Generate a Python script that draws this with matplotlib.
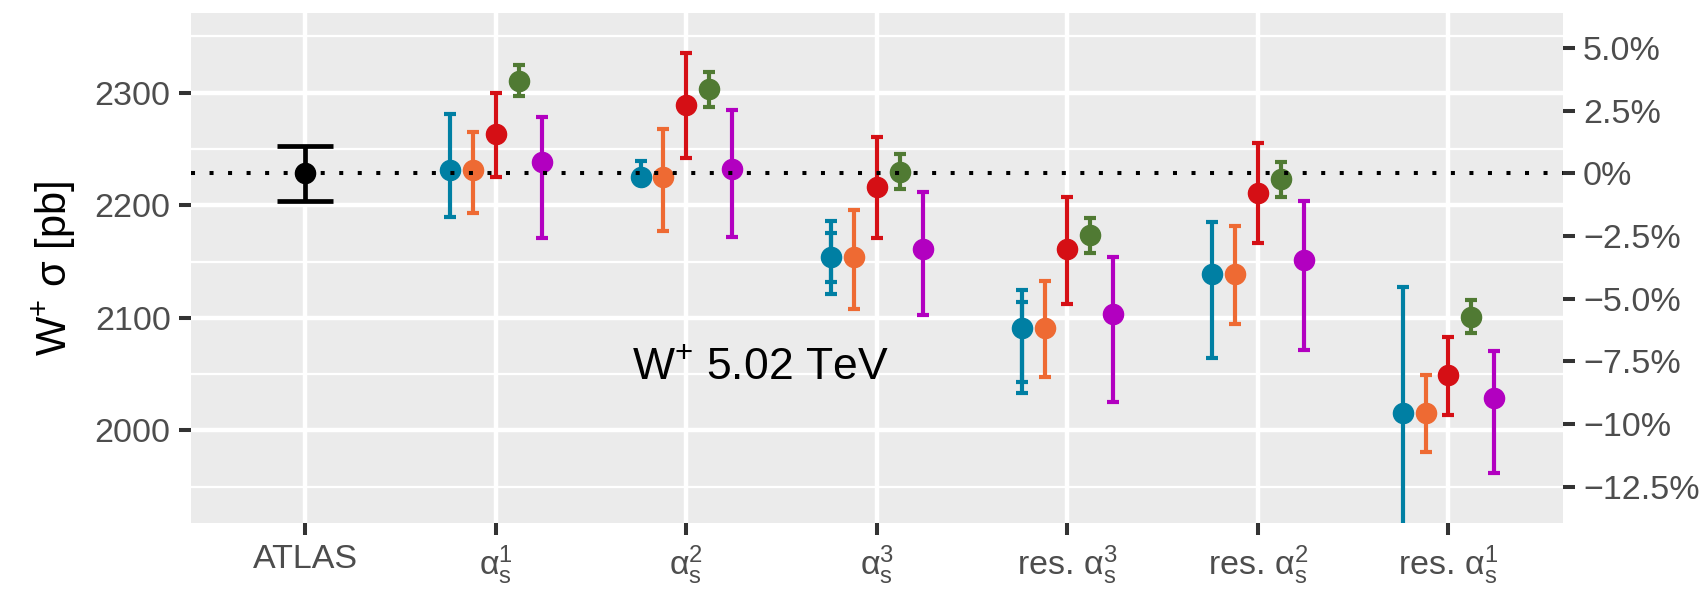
import numpy as np
import matplotlib
matplotlib.use("Agg")
import matplotlib.pyplot as plt

plt.rcParams['font.family'] = ['Liberation Sans', 'DejaVu Sans']
plt.rcParams['mathtext.fontset'] = 'custom'
plt.rcParams['mathtext.rm'] = 'Liberation Sans'
plt.rcParams['mathtext.it'] = 'Liberation Sans:italic'

# categories on the x axis
categories = ["ATLAS", r"$\mathregular{\alpha_s^1}$", r"$\mathregular{\alpha_s^2}$",
              r"$\mathregular{\alpha_s^3}$", r"res. $\mathregular{\alpha_s^3}$",
              r"res. $\mathregular{\alpha_s^2}$", r"res. $\mathregular{\alpha_s^1}$"]

# measurement
atlas_c = 2228.4
atlas_lo = 2203.8
atlas_hi = 2252.9

# predictions (one value per non-ATLAS category)
blue_c = [2231.3, 2225.4, 2154.3, 2090.9, 2138.9, 2015.1]
blue_hi = [2281.1, 2239.3, 2186.0, 2124.7, 2185.1, 2127.0]
blue_lo = [2189.3, 2219.0, 2120.9, 2032.9, 2064.2, 1903.0]
blue_hi_in = [np.nan, np.nan, 2175.0, 2114.3, np.nan, np.nan]
blue_lo_in = [np.nan, np.nan, 2131.5, 2043.2, np.nan, np.nan]

orange_c = [2231.3, 2225.4, 2154.3, 2090.9, 2138.9, 2015.1]
orange_hi = [2264.8, 2268.0, 2195.8, 2132.9, 2181.8, 2049.1]
orange_lo = [2193.4, 2177.4, 2108.0, 2047.6, 2094.2, 1980.9]

red_c = [2263.0, 2289.1, 2216.5, 2161.4, 2210.9, 2049.4]
red_hi = [2299.5, 2335.5, 2260.9, 2207.0, 2255.3, 2082.9]
red_lo = [2224.8, 2242.2, 2171.1, 2112.2, 2166.4, 2013.6]

green_c = [2310.7, 2303.0, 2229.8, 2173.5, 2223.3, 2100.9]
green_hi = [2324.9, 2318.4, 2245.3, 2188.9, 2238.7, 2115.8]
green_lo = [2297.1, 2287.6, 2214.4, 2157.8, 2207.3, 2086.5]

magenta_c = [2238.4, 2232.5, 2160.8, 2103.1, 2151.0, 2028.4]
magenta_hi = [2278.4, 2284.4, 2211.5, 2154.3, 2203.5, 2070.7]
magenta_lo = [2170.9, 2172.0, 2102.7, 2025.0, 2071.3, 1961.8]

pct_ticks = [5.0, 2.5, 0.0, -2.5, -5.0, -7.5, -10.0, -12.5]
pct_labels = ["5.0%", "2.5%", "0%", "\u22122.5%", "\u22125.0%", "\u22127.5%", "\u221210%", "\u221212.5%"]

series = [
    ("#007FA3", blue_c, blue_lo, blue_hi),
    ("#EE6A33", orange_c, orange_lo, orange_hi),
    ("#D50F15", red_c, red_lo, red_hi),
    ("#507A33", green_c, green_lo, green_hi),
    ("#B200C0", magenta_c, magenta_lo, magenta_hi),
]
dodge = 0.12

fig = plt.figure(figsize=(17.06, 6.03), dpi=100)
ax = fig.add_axes([0.11196, 0.13217, 0.80404, 0.84677])
ax.set_facecolor("#EBEBEB")
for s in ax.spines.values():
    s.set_visible(False)

ax.set_xlim(-0.6, 6.6)
ax.set_ylim(1917.4, 2371.1)
ax.set_yticks([2000, 2100, 2200, 2300])
ax.set_yticks([1950, 2050, 2150, 2250, 2350], minor=True)
ax.set_xticks(range(len(categories)))
ax.set_xticklabels(categories)
ax.grid(which="major", color="white", lw=3.2, zorder=0)
ax.grid(which="minor", axis="y", color="white", lw=1.6, zorder=0)
ax.set_axisbelow(True)
ax.tick_params(axis="both", which="major", length=8.6, width=2.9, color="#333333",
               labelsize=24.5, labelcolor="#4D4D4D")
ax.tick_params(axis="y", pad=6)
ax.tick_params(axis="x", pad=6)
ax.tick_params(which="minor", length=0)

# ATLAS measurement
ax.errorbar([0], [atlas_c], yerr=[[atlas_c - atlas_lo], [atlas_hi - atlas_c]], fmt="o",
            color="black", ms=14.5, lw=3.4, capsize=20.5, capthick=3.4, zorder=3)

xs = np.arange(1, 7)
for i, (col, c, lo, hi) in enumerate(series):
    c = np.array(c)
    lo = np.array(lo)
    hi = np.array(hi)
    x = xs + (i - 2) * dodge
    ax.errorbar(x, c, yerr=[c - lo, hi - c], fmt="o", color=col, ms=14.5, lw=3.0,
                capsize=4.1, capthick=3.0, zorder=3)
    if i == 0:
        # inner uncertainty band for the first prediction
        lo_in = np.array(blue_lo_in)
        hi_in = np.array(blue_hi_in)
        ok = ~np.isnan(lo_in)
        ax.errorbar(x[ok], c[ok], yerr=[c[ok] - lo_in[ok], hi_in[ok] - c[ok]], fmt="none",
                    ecolor=col, lw=3.0, capsize=4.1, capthick=3.0, zorder=3)

# reference line at the measured value
ax.axhline(atlas_c, color="black", lw=2.9, linestyle=(0, (1, 3.6)), dash_capstyle="butt", zorder=4)

ax.text(2.39, 2055.4, r"W$^{+}$ 5.02 TeV", fontsize=32, ha="center", va="center", color="black")
ax.set_ylabel(r"W$^{+}$ $\mathregular{\sigma}$ [pb]", fontsize=30, labelpad=12)

sec = ax.secondary_yaxis("right", functions=(lambda v: (v / atlas_c - 1) * 100,
                                             lambda p: atlas_c * (1 + p / 100)))
sec.set_yticks(pct_ticks)
sec.set_yticklabels(pct_labels)
sec.spines["right"].set_visible(False)
sec.tick_params(length=8.6, width=2.9, color="#333333", labelsize=24.5, labelcolor="#4D4D4D", pad=6)

fig.savefig("out.png", dpi=100)
